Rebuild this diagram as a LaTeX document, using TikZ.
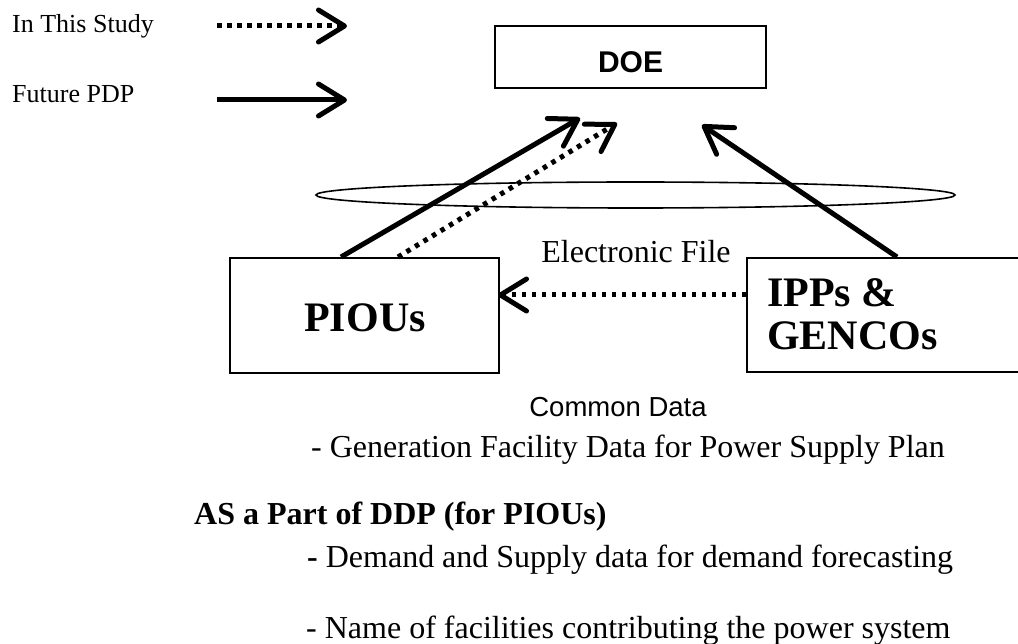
\documentclass[tikz,border=0pt]{standalone}
\usepackage{fontspec}
\setmainfont{Liberation Serif}
\newfontfamily\arialfont{Liberation Sans}
\usetikzlibrary{arrows.meta,shapes.geometric,calc}
\begin{document}
\begin{tikzpicture}[x=1pt,y=-1pt,
  box/.style={draw,line width=2pt,inner sep=0pt},
  tiphead/.style={-{Straight Barb[length=26pt,width=32pt,line width=5pt,round]}},
  solidarrow/.style={line width=5pt,tiphead},
  dotarrow/.style={line width=5pt,dash pattern=on 4.5pt off 5.5pt,tiphead},
  legendtext/.style={anchor=base west,inner sep=0pt,font=\fontsize{26}{30}\selectfont},
  bigbold/.style={inner sep=0pt,font=\bfseries\fontsize{42}{44}\selectfont},
  bodytext/.style={anchor=base west,inner sep=0pt,font=\fontsize{32}{36}\selectfont}]
\useasboundingbox (0,0) rectangle (1018,644);

% legend
\node[legendtext] (lstudy) at (12,33) {In This Study};
\node[legendtext] (lfuture) at (12,103) {Future PDP};
\coordinate (ls1) at (217,26);
\coordinate (ls2) at (347,26);
\coordinate (lf1) at (217,100);
\coordinate (lf2) at (347,100);
\draw[dotarrow] (ls1) -- (ls2);
\draw[solidarrow] (lf1) -- (lf2);

% boxes
\node[box,minimum width=271pt,minimum height=62pt] (doe) at (630.5,57) {};
\node[inner sep=0pt,anchor=base,font=\arialfont\bfseries\fontsize{30}{34}\selectfont] (doetext) at (630.5,73) {DOE};

\node[box,minimum width=269pt,minimum height=115pt] (piou) at (364.5,315.5) {};
\node[bigbold,anchor=base] (pioutext) at (365,332) {PIOUs};

\node[box,minimum width=280pt,minimum height=114pt] (ipp) at (887,315) {};
\node[bigbold,anchor=base west] (ipptext1) at (767,307) {IPPs \&};
\node[bigbold,anchor=base west] (ipptext2) at (767,350) {GENCOs};

% ellipse
\node[draw,ellipse,line width=1.6pt,minimum width=639pt,minimum height=26pt,inner sep=0pt] (ring) at (635.5,195) {};

% arrows to DOE
\coordinate (t1) at (580,118);
\coordinate (t2) at (617,123);
\coordinate (t3) at (702,125);
\draw[solidarrow] ($(piou.north west)+(112,0)$) -- (t1);
\draw[dotarrow] ($(piou.north west)+(169,0)$) -- (t2);
\draw[solidarrow] ($(ipp.north west)+(151,0)$) -- (t3);

% electronic file
\draw[dotarrow] ($(ipp.north west)+(0,38)$) -- ($(piou.north east)+(-2,38)$);
\node[inner sep=0pt,anchor=base,font=\fontsize{32}{36}\selectfont] (eftext) at (636,263) {Electronic File};

% bottom text
\node[inner sep=0pt,anchor=base,font=\arialfont\fontsize{27.5}{32}\selectfont] (common) at (618,417) {Common Data};
\node[bodytext] (gen) at (311,457) {- Generation Facility Data for Power Supply Plan};
\node[bodytext,font=\bfseries\fontsize{32}{36}\selectfont] (aspart) at (194,524) {AS a Part of DDP (for PIOUs)};
\node[bodytext] (demand) at (307,567) {\textbf{-} Demand and Supply data for demand forecasting};
\node[bodytext] (names) at (306,638) {- Name of facilities contributing the power system};
\end{tikzpicture}
\end{document}
